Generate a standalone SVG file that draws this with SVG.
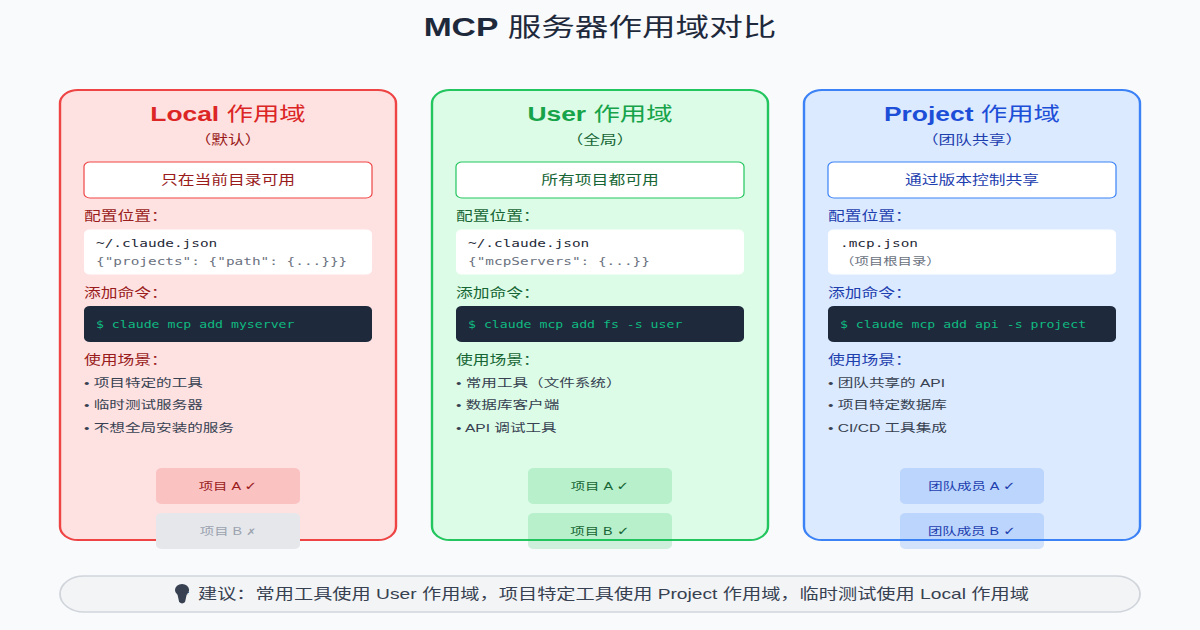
<svg xmlns="http://www.w3.org/2000/svg" width="1200" height="630" viewBox="0 0 1200 630">
<style>
text{font-family:"Liberation Sans","Noto Sans CJK SC",sans-serif}
.m{text-anchor:middle}
.card{stroke-width:2}
.mono{font-family:"DejaVu Sans Mono","Noto Sans CJK SC",monospace}
.t{font-size:22px}.b{font-weight:bold}
.s{font-size:14px}.l{font-size:14px}.f{font-size:12px;fill:#1f2937}.g{font-size:12px;fill:#6b7280}
.c{font-size:11px;fill:#10b981}.dark{fill:#1e293b}.white{fill:#fff}
.li{font-size:13px;fill:#374151}.p{font-size:12px}
.sym{font-family:"DejaVu Sans",sans-serif;font-size:13px}
.bulb{font-family:"DejaVu Sans",sans-serif;font-size:15px;fill:#374151}
.bulbfill{fill:#374151}
</style>
<rect width="1200" height="630" fill="#f8fafc"/>
<g transform="scale(1.2,0.9)">
<text id="title" x="500" y="40" class="m" font-size="28" fill="#1e293b"><tspan class="b">MCP</tspan> 服务器作用域对比</text>
<g id="local">
<rect class="card" x="50" y="100" width="280" height="500" rx="15" fill="#fee2e2" stroke="#ef4444"/>
<text class="m t" x="190" y="135" fill="#dc2626"><tspan class="b">Local</tspan> 作用域</text>
<text class="m s" x="190" y="160" fill="#991b1b">&#xFF08;默认&#xFF09;</text>
<rect x="70" y="180" width="240" height="40" rx="5" fill="#fff" stroke="#ef4444" stroke-width="1"/>
<text class="m s" x="190" y="205" fill="#991b1b">只在当前目录可用</text>
<text class="l" x="70" y="245" fill="#991b1b">配置位置&#xFF1A;</text>
<rect class="white" x="70" y="255" width="240" height="50" rx="5"/>
<text class="mono f" x="80" y="275">~/.claude.json</text>
<text class="mono g" x="80" y="295">{"projects": {"path": {...}}}</text>
<text class="l" x="70" y="330" fill="#991b1b">添加命令&#xFF1A;</text>
<rect class="dark" x="70" y="340" width="240" height="40" rx="5"/>
<text class="mono c" x="80" y="365">$ claude mcp add myserver</text>
<text class="l" x="70" y="405" fill="#991b1b">使用场景&#xFF1A;</text>
<text class="li" x="70" y="430">• 项目特定的工具</text>
<text class="li" x="70" y="455">• 临时测试服务器</text>
<text class="li" x="70" y="480">• 不想全局安装的服务</text>
<rect x="130" y="520" width="120" height="40" rx="5" fill="#ef4444" fill-opacity="0.2"/>
<text class="m p" x="190" y="545" fill="#991b1b">项目 A <tspan class="sym">✓</tspan></text>
<rect x="130" y="570" width="120" height="40" rx="5" fill="#e5e7eb"/>
<text class="m p" x="190" y="595" fill="#9ca3af">项目 B <tspan class="sym" style="font-size:10px">✗</tspan></text>
</g>
<g id="user">
<rect class="card" x="360" y="100" width="280" height="500" rx="15" fill="#dcfce7" stroke="#22c55e"/>
<text class="m t" x="500" y="135" fill="#16a34a"><tspan class="b">User</tspan> 作用域</text>
<text class="m s" x="500" y="160" fill="#166534">&#xFF08;全局&#xFF09;</text>
<rect x="380" y="180" width="240" height="40" rx="5" fill="#fff" stroke="#22c55e" stroke-width="1"/>
<text class="m s" x="500" y="205" fill="#166534">所有项目都可用</text>
<text class="l" x="380" y="245" fill="#166534">配置位置&#xFF1A;</text>
<rect class="white" x="380" y="255" width="240" height="50" rx="5"/>
<text class="mono f" x="390" y="275">~/.claude.json</text>
<text class="mono g" x="390" y="295">{"mcpServers": {...}}</text>
<text class="l" x="380" y="330" fill="#166534">添加命令&#xFF1A;</text>
<rect class="dark" x="380" y="340" width="240" height="40" rx="5"/>
<text class="mono c" x="390" y="365">$ claude mcp add fs -s user</text>
<text class="l" x="380" y="405" fill="#166534">使用场景&#xFF1A;</text>
<text class="li" x="380" y="430">• 常用工具&#xFF08;文件系统&#xFF09;</text>
<text class="li" x="380" y="455">• 数据库客户端</text>
<text class="li" x="380" y="480">• API 调试工具</text>
<rect x="440" y="520" width="120" height="40" rx="5" fill="#22c55e" fill-opacity="0.2"/>
<text class="m p" x="500" y="545" fill="#166534">项目 A <tspan class="sym">✓</tspan></text>
<rect x="440" y="570" width="120" height="40" rx="5" fill="#22c55e" fill-opacity="0.2"/>
<text class="m p" x="500" y="595" fill="#166534">项目 B <tspan class="sym">✓</tspan></text>
</g>
<g id="project">
<rect class="card" x="670" y="100" width="280" height="500" rx="15" fill="#dbeafe" stroke="#3b82f6"/>
<text class="m t" x="810" y="135" fill="#1d4ed8"><tspan class="b">Project</tspan> 作用域</text>
<text class="m s" x="810" y="160" fill="#1e40af">&#xFF08;团队共享&#xFF09;</text>
<rect x="690" y="180" width="240" height="40" rx="5" fill="#fff" stroke="#3b82f6" stroke-width="1"/>
<text class="m s" x="810" y="205" fill="#1e40af">通过版本控制共享</text>
<text class="l" x="690" y="245" fill="#1e40af">配置位置&#xFF1A;</text>
<rect class="white" x="690" y="255" width="240" height="50" rx="5"/>
<text class="mono f" x="700" y="275">.mcp.json</text>
<text class="mono g" x="700" y="295">&#xFF08;项目根目录&#xFF09;</text>
<text class="l" x="690" y="330" fill="#1e40af">添加命令&#xFF1A;</text>
<rect class="dark" x="690" y="340" width="240" height="40" rx="5"/>
<text class="mono c" x="700" y="365">$ claude mcp add api -s project</text>
<text class="l" x="690" y="405" fill="#1e40af">使用场景&#xFF1A;</text>
<text class="li" x="690" y="430">• 团队共享的 API</text>
<text class="li" x="690" y="455">• 项目特定数据库</text>
<text class="li" x="690" y="480">• CI/CD 工具集成</text>
<rect x="750" y="520" width="120" height="40" rx="5" fill="#3b82f6" fill-opacity="0.2"/>
<text class="m p" x="810" y="545" fill="#1e40af">团队成员 A <tspan class="sym">✓</tspan></text>
<rect x="750" y="570" width="120" height="40" rx="5" fill="#3b82f6" fill-opacity="0.2"/>
<text class="m p" x="810" y="595" fill="#1e40af">团队成员 B <tspan class="sym">✓</tspan></text>
</g>
<g id="tip">
<rect x="50" y="640" width="900" height="40" rx="20" fill="#f3f4f6" stroke="#d1d5db" stroke-width="1.5"/>
<text class="m bulb" x="151.7" y="666">💡&#xFE0E;</text>
<ellipse class="bulbfill" cx="151.7" cy="655.5" rx="5.9" ry="6.7"/>
<path class="bulbfill" d="M147.5 658H156L154.2 669Q151.7 672 149.3 669Z"/>
<text class="m" x="511.2" y="666" font-size="16" fill="#374151">建议&#xFF1A;常用工具使用 User 作用域&#xFF0C;项目特定工具使用 Project 作用域&#xFF0C;临时测试使用 Local 作用域</text>
</g>
</g>
<g id="connectors"/>
</svg>
